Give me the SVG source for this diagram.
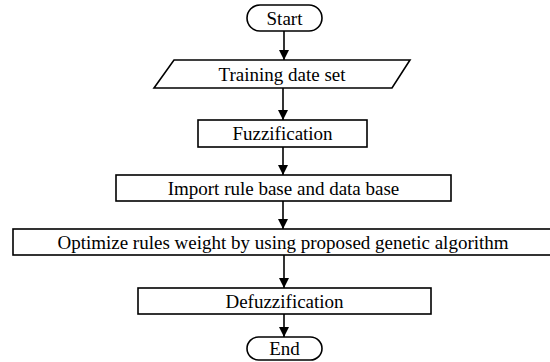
<svg xmlns="http://www.w3.org/2000/svg" width="550" height="362" viewBox="0 0 550 362">
<style>
.shape{fill:#fff;stroke:#000;stroke-width:1.6}
.lbl{font-family:"Times New Roman",Times,"Liberation Serif",Tinos,"Noto Serif","DejaVu Serif",serif;font-size:19px;fill:#000;text-anchor:middle}
.conn{stroke:#000;stroke-width:1.6;fill:none}
</style>
<defs>
<marker id="ah" markerUnits="userSpaceOnUse" markerWidth="10" markerHeight="12" refX="10" refY="5" orient="auto">
<path d="M0,0 L10,5 L0,10 Z" fill="#000"/>
</marker>
</defs>
<rect width="550" height="362" fill="#fff"/>
<g id="connectors">
<line class="conn" x1="284" y1="31" x2="284" y2="60" marker-end="url(#ah)"/>
<line class="conn" x1="283" y1="88" x2="283" y2="120" marker-end="url(#ah)"/>
<line class="conn" x1="283" y1="147" x2="283" y2="175" marker-end="url(#ah)"/>
<line class="conn" x1="283" y1="201" x2="283" y2="229" marker-end="url(#ah)"/>
<line class="conn" x1="284" y1="255" x2="284" y2="288" marker-end="url(#ah)"/>
<line class="conn" x1="284" y1="314" x2="284" y2="337" marker-end="url(#ah)"/>
</g>
<g id="start">
<rect class="shape" x="247" y="5" width="75" height="26" rx="13"/>
<text class="lbl" x="284.5" y="24.5">Start</text>
</g>
<g id="training">
<polygon class="shape" points="174,60 410,60 392,88 154,88"/>
<text class="lbl" x="282" y="80.5">Training date set</text>
</g>
<g id="fuzzification">
<rect class="shape" x="198" y="120" width="169" height="27"/>
<text class="lbl" x="282.5" y="140">Fuzzification</text>
</g>
<g id="import">
<rect class="shape" x="116" y="175" width="335" height="26"/>
<text class="lbl" x="283.5" y="194.5">Import rule base and data base</text>
</g>
<g id="optimize">
<rect class="shape" x="13" y="229" width="541" height="26"/>
<text class="lbl" x="283" y="248.5">Optimize rules weight by using proposed genetic algorithm</text>
</g>
<g id="defuzzification">
<rect class="shape" x="138" y="288" width="293" height="26"/>
<text class="lbl" x="284.5" y="307.5">Defuzzification</text>
</g>
<g id="end">
<rect class="shape" x="247" y="337" width="75" height="23" rx="11.5"/>
<text class="lbl" x="284.5" y="355">End</text>
</g>
</svg>
